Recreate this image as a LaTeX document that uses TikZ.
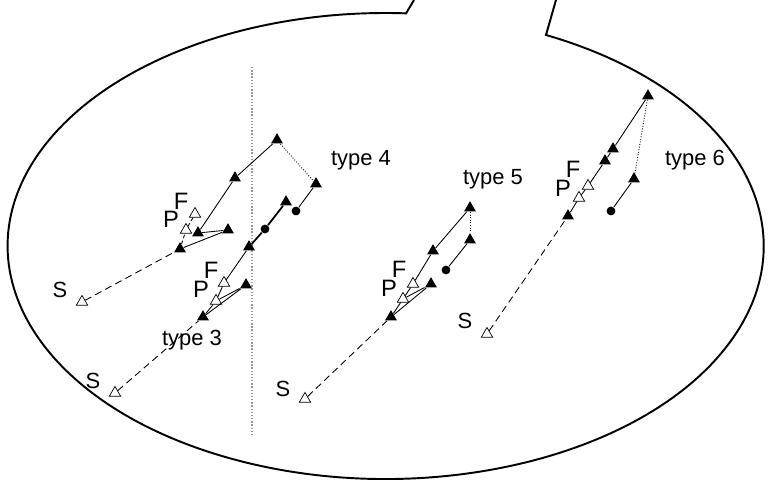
\documentclass[tikz,border=0pt]{standalone}
\usepackage{fontspec}
\setmainfont{Liberation Sans}
\usetikzlibrary{shapes.geometric}
\colorlet{midline}{gray!80}

\begin{document}
\begin{tikzpicture}[x=0.02cm, y=-0.02cm, line width=0.5pt,
        font=\fontsize{12.5}{14}\selectfont,
        full/.style={regular polygon, regular polygon sides=3, fill=black, inner sep=0pt, minimum size=7.8pt},
        hollow/.style={regular polygon, regular polygon sides=3, draw, fill=white, line width=0.4pt, inner sep=0pt, minimum size=7.5pt},
        blob/.style={circle, fill=black, inner sep=0pt, minimum size=5pt},
        tag/.style={inner sep=0.3pt, text height=9.6pt, text depth=0pt, font=\fontsize{13.5}{15}\selectfont},
        sline/.style={dash pattern=on 4pt off 2.5pt},
        pline/.style={dash pattern=on 2pt off 1.5pt}]
        \useasboundingbox (0,0) rectangle (769,480);
        % outline, open at the top
        \coordinate (gapL) at (414,0);
        \coordinate (gapR) at (556,0);
        \draw[line width=1.1pt] (gapR) -- (546,35)
            arc[start angle=-64.9, end angle=273.1, x radius=378, y radius=233] -- (gapL);
        % middle line
        \coordinate (midtop) at (252,67);
        \coordinate (midbot) at (252,435);
        \draw[midline, densely dotted, line width=0.8pt] (midtop) -- (midbot);
        % markers
        \foreach \n/\x/\y in {a1/180/249, a2/228/230, a3/198/233, a4/235/178, a5/277/140,
            b1/316/184, b3/286/202, b5/249/247, c3/203/317, c4/246/285,
            d1/470/208, d2/470/240, d4/433/251, d7/391/317, d8/431/284,
            e1/648/96, e2/613/149, e3/605/161, e6/568/216, e7/634/179}
        {
            \node[full] (\n) at (\x,\y) {};
        }
        \foreach \n/\x/\y in {sA/82/302, pA/186/230, fA/195/214, sC/115/393, c1/224/283, c2/216/301,
            sD/305/399, d5/413/284, d6/403/299, sE/487/334, e4/588/186, e5/579/198}
        {
            \node[hollow] (\n) at (\x,\y) {};
        }
        \foreach \n/\x/\y in {b2/296/211, b4/265/229, d3/446/270, e8/611/211}
        {
            \node[blob] (\n) at (\x,\y) {};
        }
        % left groups
        \draw[sline] (sA) -- (a1);
        \draw[pline] (a1) -- (pA) -- (fA);
        \draw (a1) -- (a2) -- (a3) -- (a4) -- (a5);
        \draw[densely dotted] (a5) -- (b1);
        \draw (b1) -- (b2);
        \draw[line width=1pt] (b3) -- (b4) -- (b5);
        \draw (b5) -- (c1) -- (c2) -- (c3);
        \draw (c2) -- (c4) -- (c3);
        \draw[sline] (sC) -- (c3);
        % type 5
        \draw[densely dotted] (d1) -- (d2);
        \draw (d2) -- (d3);
        \draw (d1) -- (d4) -- (d5) -- (d6) -- (d7);
        \draw (d6) -- (d8) -- (d7);
        \draw[sline] (sD) -- (d7);
        % type 6
        \draw (e1) -- (e2) -- (e3) -- (e4) -- (e5) -- (e6);
        \draw[densely dotted] (e1) -- (e7);
        \draw (e7) -- (e8);
        \draw[sline] (sE) -- (e6);
        % labels
        \node (lsA) at (60,290) {S};
        \node[tag] (lpA) at (171,219) {P};
        \node[tag] (lfA) at (181,201) {F};
        \node (lsC) at (93,381) {S};
        \node[tag] (lpC) at (201,289) {P};
        \node[tag] (lfC) at (211,270) {F};
        \node (lsD) at (283,389) {S};
        \node[tag] (lpD) at (389,288) {P};
        \node[tag] (lfD) at (399,269) {F};
        \node (lsE) at (465,321) {S};
        \node[tag] (lpE) at (563,188) {P};
        \node[tag] (lfE) at (573,169) {F};
        \node (t3) at (192,340) {type 3};
        \node (t4) at (361,160) {type 4};
        \node (t5) at (493,179) {type 5};
        \node (t6) at (695,160) {type 6};
    \end{tikzpicture}
\end{document}
